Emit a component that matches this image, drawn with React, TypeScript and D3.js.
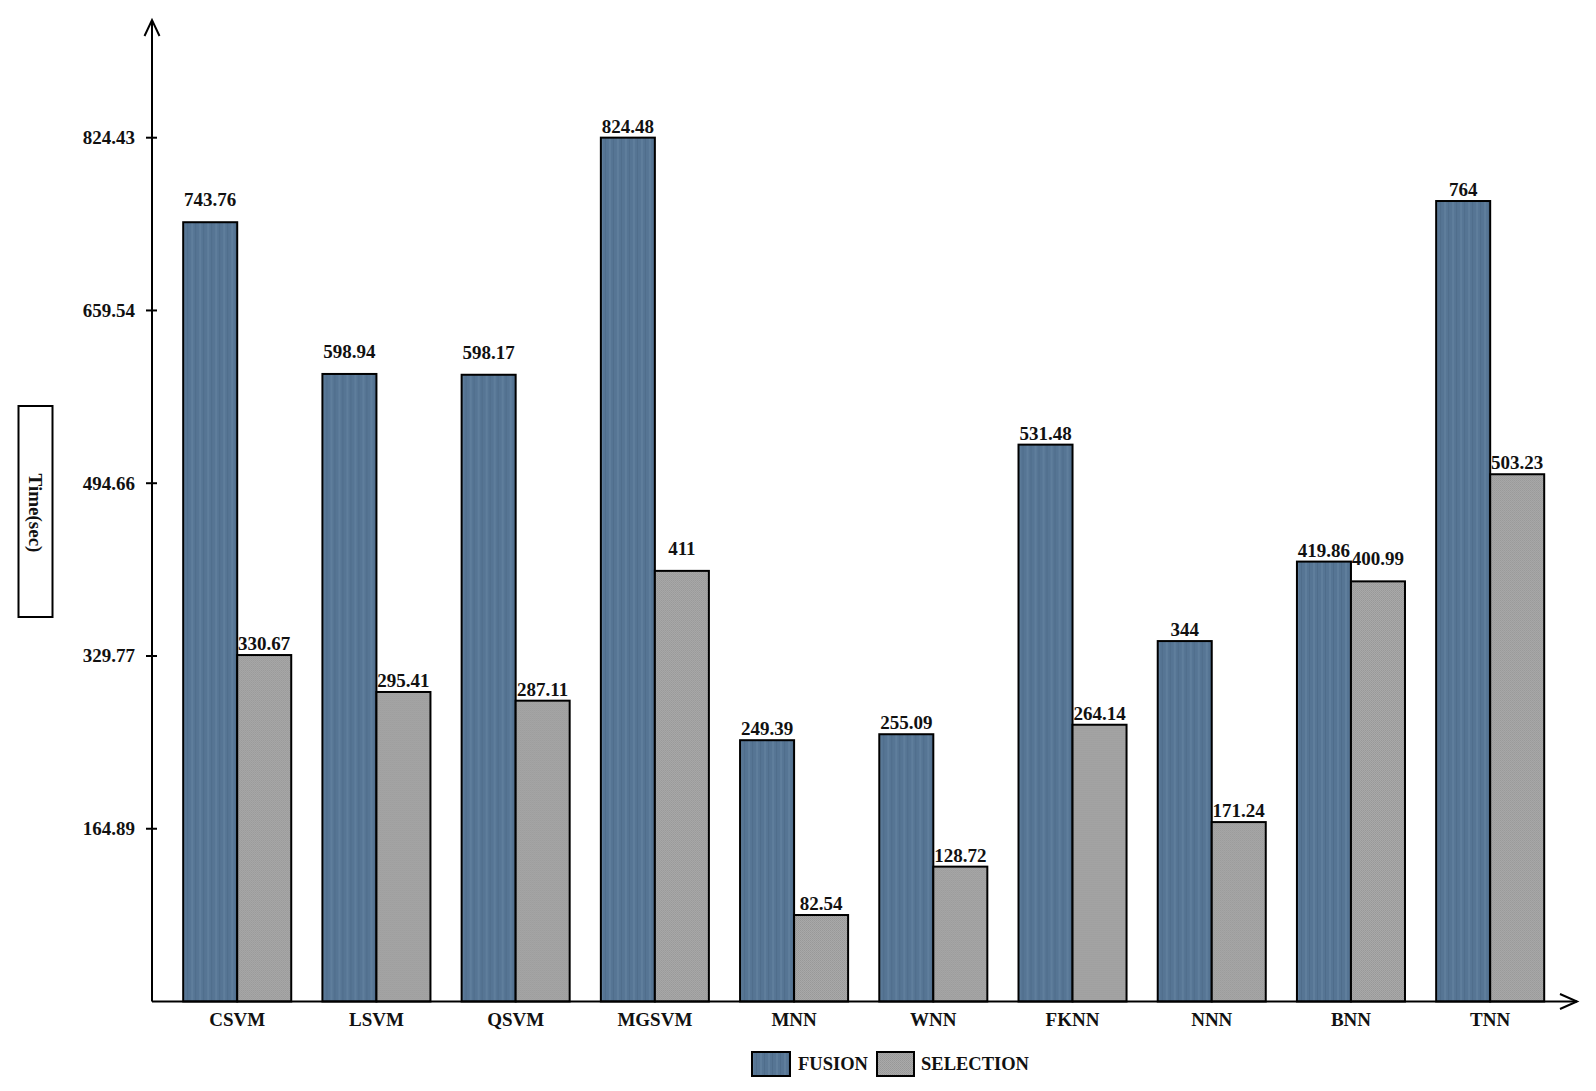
import React from "react";
import * as d3 from "d3";

const categories = ["CSVM", "LSVM", "QSVM", "MGSVM", "MNN", "WNN", "FKNN", "NNN", "BNN", "TNN"];
const fusion = [743.76, 598.94, 598.17, 824.48, 249.39, 255.09, 531.48, 344, 419.86, 764];
const selection = [330.67, 295.41, 287.11, 411, 82.54, 128.72, 264.14, 171.24, 400.99, 503.23];
const fusionLabels = ["743.76", "598.94", "598.17", "824.48", "249.39", "255.09", "531.48", "344", "419.86", "764"];
const selectionLabels = ["330.67", "295.41", "287.11", "411", "82.54", "128.72", "264.14", "171.24", "400.99", "503.23"];
const tickValues = [164.886, 329.772, 494.658, 659.544, 824.43];
const tickLabels = ["164.89", "329.77", "494.66", "659.54", "824.43"];
const seriesNames = ["FUSION", "SELECTION"];

// labels drawn higher above their bars in the original
const liftedFusion = new Set(["CSVM", "LSVM", "QSVM"]);
const liftedSelection = new Set(["MGSVM", "BNN"]);

const FONT = "'Liberation Serif', 'Times New Roman', serif";

export default function App() {
  const W = 1596;
  const H = 1091;
  const axisX = 152;
  const baseY = 1001.5;
  const y = d3.scaleLinear().domain([0, 824.43]).range([baseY, 137.7]);
  const x0 = d3.scaleBand<string>().domain(categories).range([183.2, 1544.2]).paddingInner(0.224).paddingOuter(0);
  const x1 = d3.scaleBand<string>().domain(seriesNames).range([0, x0.bandwidth()]).padding(0);

  const series = [
    { name: "FUSION", values: fusion, labels: fusionLabels, fill: "url(#fusionPat)", lifted: liftedFusion },
    { name: "SELECTION", values: selection, labels: selectionLabels, fill: "url(#selPat)", lifted: liftedSelection },
  ];

  return (
    <svg width={W} height={H} style={{ display: "block", position: "absolute", left: 0, top: 0 }} fontFamily={FONT}>
      <defs>
        <pattern id="fusionPat" patternUnits="userSpaceOnUse" width="8" height="8">
          <rect width="8" height="8" fill="#567594" />
          <rect x="0" width="2" height="8" fill="#5f7e9c" />
          <rect x="4" width="1" height="8" fill="#4f6d8b" />
        </pattern>
        <pattern id="selPat" patternUnits="userSpaceOnUse" width="2" height="2">
          <rect width="2" height="2" fill="#aaaaaa" />
          <rect x="0" y="0" width="1" height="1" fill="#979797" />
          <rect x="1" y="1" width="1" height="1" fill="#9c9c9c" />
        </pattern>
      </defs>
      <rect width={W} height={H} fill="#fff" />

      {/* bars */}
      {categories.map((c, i) => (
        <g key={c} transform={`translate(${x0(c)},0)`}>
          {series.map((s) => (
            <rect
              key={s.name}
              x={x1(s.name)}
              y={y(s.values[i])}
              width={x1.bandwidth()}
              height={baseY - y(s.values[i])}
              fill={s.fill}
              stroke="#000"
              strokeWidth={2}
            />
          ))}
        </g>
      ))}

      {/* value labels */}
      {categories.map((c, i) => (
        <g key={c + "l"} transform={`translate(${x0(c)},0)`}>
          {series.map((s) => (
            <text
              key={s.name}
              x={(x1(s.name) as number) + x1.bandwidth() / 2}
              y={y(s.values[i]) - (s.lifted.has(c) ? 16 : 5)}
              textAnchor="middle"
              fontSize={19}
              fontWeight="bold"
              fill="#111"
            >
              {s.labels[i]}
            </text>
          ))}
        </g>
      ))}

      {/* axes */}
      <line x1={axisX} y1={baseY} x2={axisX} y2={20} stroke="#000" strokeWidth={2} />
      <polyline points={`${axisX - 7.5},36 ${axisX},20 ${axisX + 7.5},36`} fill="none" stroke="#000" strokeWidth={2} />
      <line x1={axisX} y1={baseY} x2={1577} y2={baseY} stroke="#000" strokeWidth={2} />
      <polyline points={`1560,994 1577,${baseY} 1560,1009`} fill="none" stroke="#000" strokeWidth={2} />

      {tickValues.map((t, i) => (
        <g key={t}>
          <line x1={axisX - 6} x2={axisX + 5} y1={y(t)} y2={y(t)} stroke="#000" strokeWidth={2} />
          <text x={135} y={y(t) + 6.5} textAnchor="end" fontSize={19} fontWeight="bold" fill="#111">
            {tickLabels[i]}
          </text>
        </g>
      ))}

      {categories.map((c) => (
        <text
          key={c + "x"}
          x={(x0(c) as number) + x0.bandwidth() / 2}
          y={1026}
          textAnchor="middle"
          fontSize={19}
          fontWeight="bold"
          fill="#111"
        >
          {c}
        </text>
      ))}

      {/* y label */}
      <rect x={18.5} y={406} width={34} height={211} fill="#fff" stroke="#000" strokeWidth={2} />
      <text transform="translate(35,513) rotate(90)" textAnchor="middle" dominantBaseline="central" fontSize={19} fontWeight="bold" fill="#111">
        Time(sec)
      </text>

      {/* legend */}
      <rect x={752} y={1052} width={38} height={24} fill="url(#fusionPat)" stroke="#000" strokeWidth={2} />
      <text x={798} y={1070} fontSize={18.5} fontWeight="bold" fill="#111">{seriesNames[0]}</text>
      <rect x={877} y={1052} width={37} height={24} fill="url(#selPat)" stroke="#000" strokeWidth={2} />
      <text x={921} y={1070} fontSize={18.5} fontWeight="bold" fill="#111">{seriesNames[1]}</text>
    </svg>
  );
}
